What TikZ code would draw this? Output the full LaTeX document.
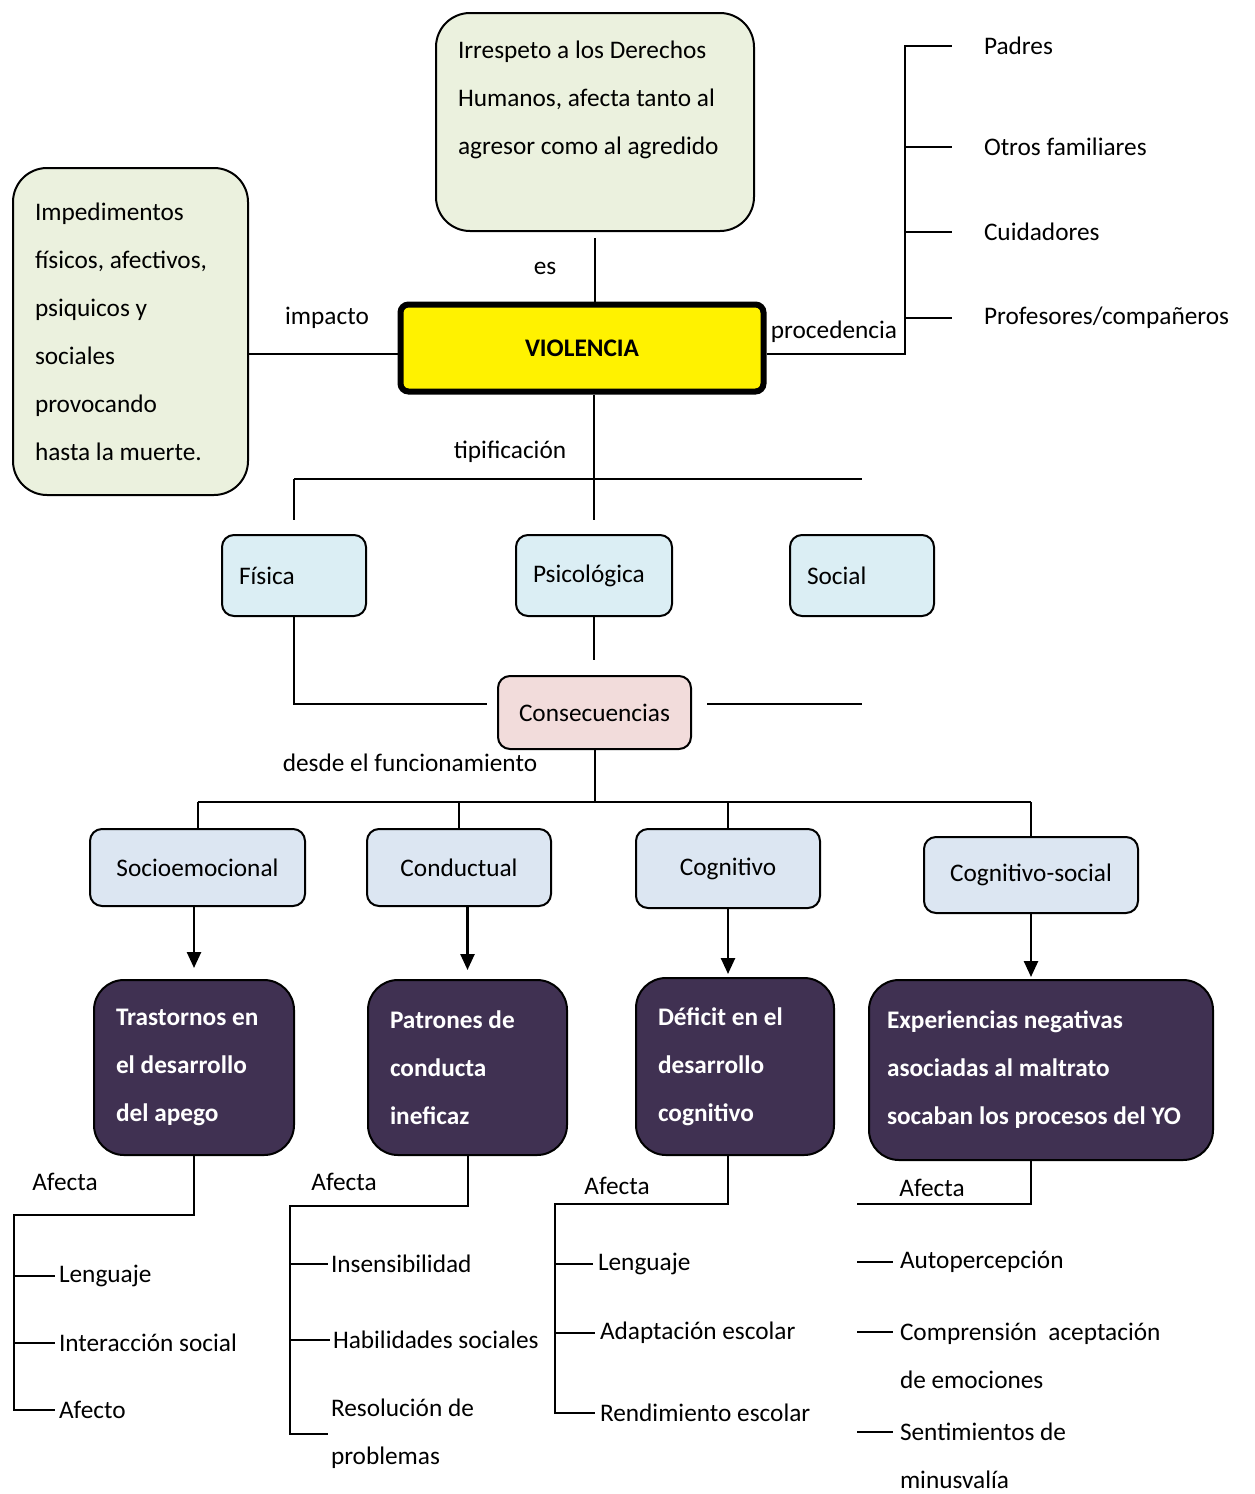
\documentclass[tikz,border=0pt]{standalone}
\usepackage{fontspec}
\setmainfont{Carlito}
\usepackage{tikz}
\usetikzlibrary{arrows.meta,positioning}

\definecolor{boxgreen}{RGB}{235,241,222}
\definecolor{boxblue}{RGB}{219,238,244}
\definecolor{boxpink}{RGB}{242,220,219}
\definecolor{boxgrey}{RGB}{220,230,242}
\definecolor{boxpurple}{RGB}{64,49,82}
\newcommand{\mapfont}{\fontsize{25.3}{48}\selectfont}

\begin{document}
\begin{tikzpicture}[
		x=1pt, y=-1pt,
		font=\mapfont,
		line width=2pt,
		>={Triangle[length=16pt,width=14pt]},
		nota/.style={
			rectangle,
			rounded corners=34pt,
			draw=black,
			fill=boxgreen,
			anchor=north west,
			align=flush left,
			inner xsep=22pt,
			inner ysep=0pt
		},
		tipo/.style={
			rectangle,
			rounded corners=12pt,
			draw=black,
			fill=boxblue,
			anchor=north west,
			align=flush left,
			inner xsep=17pt,
			inner ysep=0pt
		},
		area/.style={
			rectangle,
			rounded corners=12pt,
			draw=black,
			fill=boxgrey,
			anchor=north west,
			align=center
		},
		efecto/.style={
			rectangle,
			rounded corners=30pt,
			draw=black,
			fill=boxpurple,
			text=white,
			font=\mapfont\bfseries,
			anchor=north west,
			align=flush left,
			inner xsep=22pt,
			inner ysep=0pt
		},
		item/.style={
			anchor=west,
			inner sep=0pt
		},
		lbl/.style={
			inner sep=0pt
		}
		]
		\path [use as bounding box, fill=white] (0,0) rectangle (1254,1494);
		
		% centre and the two notes
		\node [rectangle, rounded corners=8pt, draw=black, line width=6pt, fill=yellow,
			minimum width=363pt, minimum height=87pt, font=\mapfont\bfseries] (violencia) at (582,348) {VIOLENCIA};
		
		\node [nota, text width=274pt, minimum height=218pt] (irrespeto) at (435,12)
		{Irrespeto a los Derechos\\Humanos, afecta tanto al\\agresor como al agredido\\\mbox{}};
		
		\node [nota, text width=191pt, minimum height=327pt] (impedimentos) at (12,167)
		{Impedimentos\\físicos, afectivos,\\psiquicos y\\sociales\\provocando\\hasta la muerte.};
		
		% procedencia
		\node [item] (padres) at (983,46) {Padres};
		\node [item] (otros) at (983,147) {Otros familiares};
		\node [item] (cuidadores) at (983,232) {Cuidadores};
		\node [item] (profes) at (983,318) {Profesores/compañeros};
		
		% tipos
		\node [tipo, text width=110pt, minimum height=81pt] (fisica) at (221,534) {Física};
		\node [tipo, text width=122pt, minimum height=81pt] (psico) at (515,534) {Psicológica};
		\node [tipo, text width=110pt, minimum height=81pt] (social) at (789,534) {Social};
		
		\node [area, fill=boxpink, minimum width=193pt, minimum height=73pt] (consec) at (497,675) {Consecuencias};
		
		% areas de funcionamiento
		\node [area, minimum width=215pt, minimum height=77pt] (socio) at (89,828) {Socioemocional};
		\node [area, minimum width=184pt, minimum height=77pt] (conduct) at (366,828) {Conductual};
		\node [area, minimum width=184pt, minimum height=79pt] (cogn) at (635,828) {Cognitivo};
		\node [area, minimum width=214pt, minimum height=76pt] (cogsoc) at (923,836) {Cognitivo-social};
		
		\node [efecto, text width=156pt, minimum height=175pt] (trastornos) at (93,979)
		{Trastornos en\\el desarrollo\\del apego};
		\node [efecto, text width=155pt, minimum height=175pt] (patrones) at (367,979)
		{Patrones de\\conducta\\ineficaz};
		\node [efecto, text width=154pt, minimum height=177pt] (deficit) at (635,977)
		{Déficit en el\\desarrollo\\cognitivo};
		\node [efecto, inner xsep=18pt, text width=308pt, minimum height=180pt] (experiencias) at (868,979)
		{Experiencias negativas\\asociadas al maltrato\\socaban los procesos del YO};
		
		% lo que afecta
		\node [item] (lenguajeA) at (58,1276) {Lenguaje};
		\node [item] (interaccion) at (58,1343) {Interacción social};
		\node [item] (afecto) at (58,1410) {Afecto};
		
		\node [item] (insens) at (330,1264) {Insensibilidad};
		\node [item] (habilidades) at (332,1340) {Habilidades sociales};
		\node [item, align=left] (resolucion) at (330,1434) {Resolución de\\problemas};
		
		\node [item] (lenguajeB) at (597,1264) {Lenguaje};
		\node [item] (adaptacion) at (599,1333) {Adaptación escolar};
		\node [item] (rendimiento) at (599,1413) {Rendimiento escolar};
		
		\node [item] (autoperc) at (899,1262) {Autopercepción};
		\node [item, align=left] (comprension) at (899,1356) {Comprensión\ \ aceptación\\de emociones};
		\node [item, align=left] (sentimientos) at (899,1456) {Sentimientos de\\minusvalía};
		
		% labels
		\node [lbl] (es) at (545,268) {es};
		\node [lbl] (impacto) at (327,318) {impacto};
		\node [lbl] (procedencia) at (834,332) {procedencia};
		\node [lbl] (tipificacion) at (510,452) {tipificación};
		\node [lbl] (funcionamiento) at (410,763) {desde el funcionamiento};
		\node [lbl] (afectaA) at (65,1182) {Afecta};
		\node [lbl] (afectaB) at (344,1182) {Afecta};
		\node [lbl] (afectaC) at (617,1186) {Afecta};
		\node [lbl] (afectaD) at (932,1188) {Afecta};
		
		\coordinate (tip) at (593,479);
		\coordinate (busA) at (14,1215);
		\coordinate (busB) at (290,1206);
		\coordinate (busC) at (555,1204);
		\coordinate (busD) at (857,1204);
		
		% connectors
		\draw [shorten <=6pt] (irrespeto.south) -- (irrespeto.south |- violencia.north);
		\draw ([yshift=-6pt]impedimentos.east |- violencia.west) -- ([yshift=-6pt]violencia.west);
		\draw ([yshift=-6pt]violencia.east) -| ([xshift=-78pt]padres.west) -- ([xshift=-31pt]padres.west);
		\foreach \n in {otros,cuidadores,profes}
			\draw ([xshift=-78pt]\n.west) -- ([xshift=-31pt]\n.west);
		
		\draw (psico.north |- violencia.south) -- ([yshift=14pt]psico.north);
		\draw (tip -| fisica.north) -- (tip -| social.north);
		\draw (tip -| fisica.north) -- ([yshift=14pt]fisica.north);
		
		\draw (fisica.south) |- ([xshift=-10pt,yshift=9pt]consec.west);
		\draw [shorten >=15pt] (psico.south) -- (psico.south |- consec.north);
		\draw ([xshift=15pt,yshift=9pt]consec.east) -- ([yshift=9pt]consec.east -| social.south);
		
		\draw (consec.south) -- ++(0,52) coordinate (fbus);
		\draw (fbus -| socio.north) -- (fbus -| cogsoc.north);
		\foreach \n in {socio,conduct,cogn,cogsoc}
			\draw (fbus -| \n.north) -- (\n.north);
		
		\draw [->, line width=2.5pt] (socio.south -| trastornos.north) -- ([yshift=11pt]trastornos.north);
		\draw [->, line width=2.5pt] (conduct.south -| patrones.north) -- ([yshift=9pt]patrones.north);
		\draw [->, line width=2.5pt] (cogn.south) -- ([yshift=3pt]cogn.south |- deficit.north);
		\draw [->, line width=2.5pt] (cogsoc.south) -- ([yshift=2pt]cogsoc.south |- experiencias.north);
		
		\draw (trastornos.south) |- (busA) |- ([xshift=-3pt]afecto.west);
		\foreach \n in {lenguajeA,interaccion}
			\draw (busA |- \n.west) -- ([xshift=-3pt]\n.west);
		
		\draw (patrones.south) |- (busB) |- ([xshift=-2pt]resolucion.west);
		\foreach \n in {insens,habilidades}
			\draw (busB |- \n.west) -- ([xshift=-2pt]\n.west);
		
		\draw (cogn.south |- deficit.south) |- (busC) |- ([xshift=-4pt]rendimiento.west);
		\foreach \n in {lenguajeB,adaptacion}
			\draw (busC |- \n.west) -- ([xshift=-4pt]\n.west);
		
		\draw (cogsoc.south |- experiencias.south) |- (busD);
		\draw (busD |- autoperc.west) -- ([xshift=-6pt]autoperc.west);
		\foreach \n in {comprension,sentimientos}
			\draw ([yshift=24pt]busD |- \n.west) -- ([xshift=-6pt,yshift=24pt]\n.west);
		
\end{tikzpicture}
\end{document}
